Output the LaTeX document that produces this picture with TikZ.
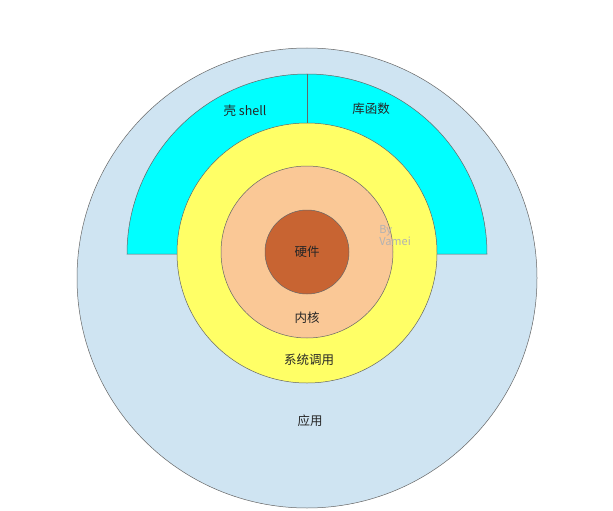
\documentclass[tikz,border=0pt]{standalone}
\usepackage{fontspec}
\setmainfont{Noto Sans CJK SC}
\begin{document}
\begin{tikzpicture}[x=1pt,y=-1pt,line width=0.5pt,
  ring/.style={draw=gray!80!black},
  lab/.style={font=\fontsize{12.5}{14}\selectfont,text=black!85}]
\useasboundingbox (0,0) rectangle (613,511);
\fill[white] (0,0) rectangle (613,511);
\filldraw[ring,fill={rgb,255:red,207;green,228;blue,242}] (307,278) circle[radius=230];
\filldraw[ring,fill={rgb,255:red,0;green,255;blue,255}] (127,254) arc[start angle=180,end angle=0,x radius=180,y radius=-180] -- (487,254) -- cycle;
\draw[ring] (307,74) coordinate (t) -- (307,123) coordinate (b);
\filldraw[ring,fill={rgb,255:red,255;green,255;blue,102}] (307,253) circle[radius=130];
\filldraw[ring,fill={rgb,255:red,250;green,200;blue,150}] (307,252) circle[radius=86];
\filldraw[ring,fill={rgb,255:red,200;green,100;blue,50}] (307,252) circle[radius=42];
\node[lab] (shell) at (245,111) {壳 shell};
\node[lab] (lib) at (371,109) {库函数};
\node[lab] (hw) at (307,252) {硬件};
\node[lab] (k) at (307,318) {内核};
\node[lab] (sc) at (309,360) {系统调用};
\node[lab] (app) at (310,421) {应用};
\node[font=\fontsize{11}{12}\selectfont,text=gray!60,align=left,anchor=north west,inner sep=0] (by) at (379,225) {By\\Vamei};
\end{tikzpicture}
\end{document}
